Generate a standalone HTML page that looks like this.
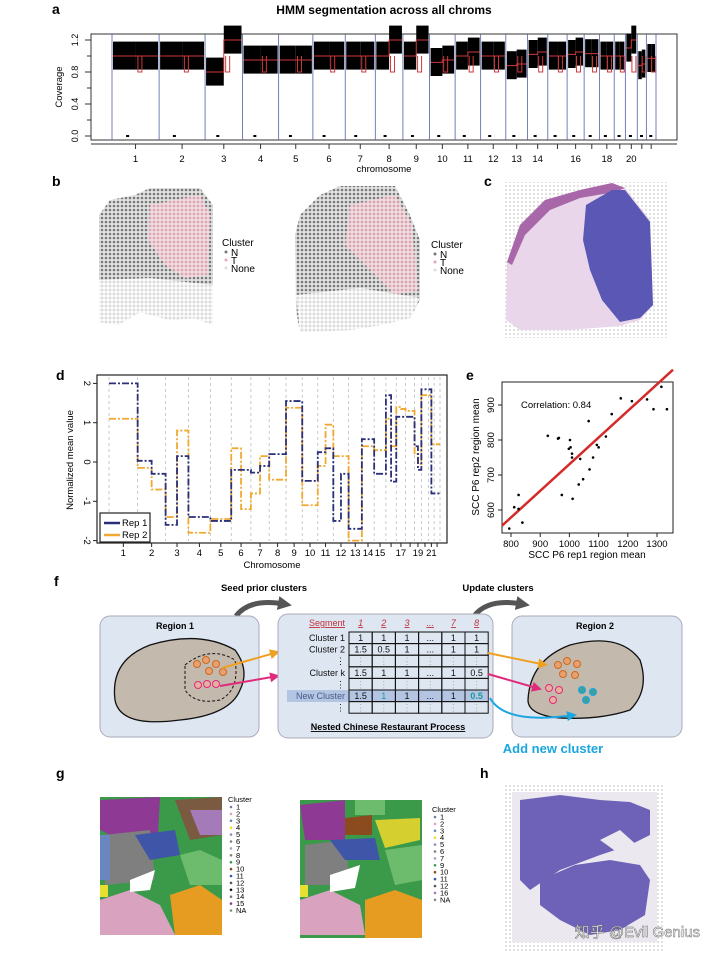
<!DOCTYPE html>
<html><head><meta charset="utf-8">
<style>
html,body{margin:0;padding:0;background:#fff;}
svg{display:block;font-family:"Liberation Sans","Noto Sans CJK SC",sans-serif;}
</style></head>
<body>
<svg id="fig" width="720" height="959" viewBox="0 0 720 959" xmlns="http://www.w3.org/2000/svg">
<defs>
<pattern id="grayDots" width="4" height="4" patternUnits="userSpaceOnUse"><rect width="4" height="4" fill="#e2e2e2"/><circle cx="2" cy="2" r="1.3" fill="#7a7a7a"/></pattern>
<pattern id="pinkDots" width="4" height="4" patternUnits="userSpaceOnUse"><rect width="4" height="4" fill="#f0dde2"/><circle cx="2" cy="2" r="1.4" fill="#e4a9b6"/></pattern>
<pattern id="lightDots" width="4" height="4" patternUnits="userSpaceOnUse"><rect width="4" height="4" fill="#fff"/><circle cx="2" cy="2" r="1.5" fill="#dcdcdc"/></pattern>
<pattern id="spotGrid" width="4" height="4" patternUnits="userSpaceOnUse"><rect width="4" height="4" fill="#fff"/><circle cx="2" cy="2" r="1" fill="#d8d8d8"/></pattern>
<marker id="arrOr" markerUnits="userSpaceOnUse" markerWidth="10" markerHeight="10" refX="8" refY="5" orient="auto"><path d="M0,0 L10,5 L0,10 z" fill="#f0a020"/></marker>
<marker id="arrPk" markerUnits="userSpaceOnUse" markerWidth="10" markerHeight="10" refX="8" refY="5" orient="auto"><path d="M0,0 L10,5 L0,10 z" fill="#e02a7a"/></marker>
<marker id="arrBl" markerUnits="userSpaceOnUse" markerWidth="10" markerHeight="10" refX="8" refY="5" orient="auto"><path d="M0,0 L10,5 L0,10 z" fill="#1aa6e0"/></marker>
<marker id="arrGy" markerUnits="userSpaceOnUse" markerWidth="14" markerHeight="14" refX="6" refY="7" orient="auto"><path d="M0,0 L14,7 L0,14 z" fill="#555"/></marker>
</defs>

<g font-weight="bold" font-size="14" fill="#000">
<text x="52" y="14">a</text>
<text x="52" y="186">b</text>
<text x="484" y="186">c</text>
<text x="56" y="380">d</text>
<text x="466" y="380">e</text>
<text x="54" y="586">f</text>
<text x="56" y="778">g</text>
<text x="480" y="778">h</text>
</g>

<text x="384" y="14" text-anchor="middle" font-size="12" font-weight="bold">HMM segmentation across all chroms</text>
<g id="panelA"></g>

<g>
<path d="M99,215 L110,200 L135,195 L150,188 L200,188 L213,205 L213,325 L195,318 L170,320 L140,312 L118,325 L99,322 Z" fill="url(#grayDots)"/>
<path d="M150,205 L200,195 L210,215 L208,275 L185,278 L165,265 L148,240 Z" fill="url(#pinkDots)" opacity="0.95"/>
<path d="M99,280 L150,278 L213,285 L213,325 L195,318 L170,320 L140,312 L118,325 L99,322 Z" fill="url(#lightDots)"/>
</g>
<g font-size="10">
<text x="222" y="246">Cluster</text>
<circle cx="226" cy="252" r="1.5" fill="#777"/><text x="231" y="256">N</text>
<circle cx="226" cy="260" r="1.5" fill="#e4a9b6"/><text x="231" y="264">T</text>
<circle cx="226" cy="268" r="1.5" fill="#ddd"/><text x="231" y="272">None</text>
</g>
<g>
<path d="M295,235 L300,215 L320,195 L340,186 L395,186 L410,215 L420,240 L420,300 L410,318 L380,325 L350,330 L300,332 L296,310 Z" fill="url(#grayDots)"/>
<path d="M350,205 L395,195 L412,225 L418,290 L395,295 L370,270 L345,245 Z" fill="url(#pinkDots)" opacity="0.9"/>
<path d="M296,295 L360,288 L420,298 L410,318 L380,325 L350,330 L300,332 Z" fill="url(#lightDots)"/>
</g>
<g font-size="10">
<text x="431" y="248">Cluster</text>
<circle cx="435" cy="254" r="1.5" fill="#777"/><text x="440" y="258">N</text>
<circle cx="435" cy="262" r="1.5" fill="#e4a9b6"/><text x="440" y="266">T</text>
<circle cx="435" cy="270" r="1.5" fill="#ddd"/><text x="440" y="274">None</text>
</g>

<g>
<rect x="505" y="182" width="162" height="156" fill="url(#spotGrid)"/>
<path d="M507,262 L520,225 L545,200 L580,190 L612,183 L625,188 L650,220 L653,305 L640,320 L620,326 L570,330 L520,330 L506,320 Z" fill="#e9d6ea"/>
<path d="M507,262 L520,225 L545,200 L580,190 L612,183 L625,188 L615,192 L580,198 L550,210 L525,235 L512,265 Z" fill="#a767a9"/>
<path d="M586,205 L612,190 L625,190 L650,222 L653,305 L640,318 L620,322 L602,300 L590,270 L583,240 Z" fill="#5b57b5"/>
</g>

<g id="panelD"></g>
<g id="panelE"></g>

<g>
<text x="264" y="591" text-anchor="middle" font-size="9.5" font-weight="bold">Seed prior clusters</text>
<text x="498" y="591" text-anchor="middle" font-size="9.5" font-weight="bold">Update clusters</text>
<path d="M236,616 Q250,598 284,604" fill="none" stroke="#555" stroke-width="5" marker-end="url(#arrGy)"/>
<path d="M474,616 Q488,598 522,604" fill="none" stroke="#555" stroke-width="5" marker-end="url(#arrGy)"/>
<rect x="100" y="616" width="159" height="121" rx="10" fill="#dde6f1" stroke="#aab"/>
<text x="175" y="629" text-anchor="middle" font-size="9" font-weight="bold">Region 1</text>
<path d="M115,700 Q110,660 150,645 Q200,630 235,650 Q250,670 240,690 Q230,715 180,720 Q120,728 115,700 Z" fill="#c4b9ad" stroke="#111" stroke-width="1.3"/>
<path d="M185,665 Q210,645 235,660 Q240,690 220,700 Q195,705 185,690 Z" fill="none" stroke="#111" stroke-dasharray="3,2"/>
<g fill="#e8a070" stroke="#cc6a20"><circle cx="197" cy="664" r="3.5"/><circle cx="206" cy="660" r="3.5"/><circle cx="216" cy="664" r="3.5"/><circle cx="209" cy="671" r="3.5"/><circle cx="223" cy="672" r="3.5"/></g>
<g fill="#e8b0a0" stroke="#e02a7a"><circle cx="198" cy="685" r="3.5"/><circle cx="207" cy="684" r="3.5"/><circle cx="216" cy="684" r="3.5"/></g>
<line x1="222" y1="668" x2="278" y2="652" stroke="#f0a020" stroke-width="2" marker-end="url(#arrOr)"/>
<line x1="220" y1="686" x2="278" y2="676" stroke="#e02a7a" stroke-width="2" marker-end="url(#arrPk)"/>
<rect x="278" y="614" width="215" height="124" rx="10" fill="#dde6f1" stroke="#aab"/>
<rect x="287" y="690" width="200" height="12" fill="#a9bde0" opacity="0.8"/>
<g id="ncrpTable"></g>
<text x="388" y="730" text-anchor="middle" font-size="9" font-weight="bold" text-decoration="underline">Nested Chinese Restaurant Process</text>
<rect x="512" y="616" width="170" height="121" rx="10" fill="#dde6f1" stroke="#aab"/>
<text x="595" y="629" text-anchor="middle" font-size="9" font-weight="bold">Region 2</text>
<path d="M528,700 Q530,660 570,645 Q620,632 640,660 Q650,690 630,710 Q600,720 560,718 Q528,715 528,700 Z" fill="#c4b9ad" stroke="#111" stroke-width="1.3"/>
<g fill="#e8a070" stroke="#cc6a20"><circle cx="558" cy="665" r="3.5"/><circle cx="567" cy="661" r="3.5"/><circle cx="577" cy="664" r="3.5"/><circle cx="563" cy="674" r="3.5"/><circle cx="575" cy="675" r="3.5"/></g>
<g fill="#e8b0a0" stroke="#e02a7a"><circle cx="549" cy="688" r="3.5"/><circle cx="559" cy="690" r="3.5"/><circle cx="553" cy="700" r="3.5"/></g>
<g fill="#3aa0a0" stroke="#1aa6e0"><circle cx="582" cy="690" r="3.5"/><circle cx="593" cy="692" r="3.5"/><circle cx="586" cy="700" r="3.5"/></g>
<line x1="488" y1="653" x2="546" y2="665" stroke="#f0a020" stroke-width="2" marker-end="url(#arrOr)"/>
<line x1="488" y1="674" x2="540" y2="689" stroke="#e02a7a" stroke-width="2" marker-end="url(#arrPk)"/>
<path d="M490,698 Q505,725 575,715" fill="none" stroke="#1aa6e0" stroke-width="2" marker-end="url(#arrBl)"/>
<text x="553" y="753" text-anchor="middle" font-size="13" font-weight="bold" fill="#1aa6e0">Add new cluster</text>
</g>

<g>
<rect x="100" y="797" width="122" height="138" fill="#3a9a4a"/>
<path d="M100,800 L160,797 L158,835 L120,840 L100,830 Z" fill="#8e3a94"/>
<path d="M103,835 L150,830 L155,880 L105,885 Z" fill="#7f7f7f"/>
<path d="M135,835 L175,830 L180,855 L150,860 Z" fill="#3e55a8"/>
<path d="M100,835 L110,835 L110,880 L100,880 Z" fill="#6a86c0"/>
<path d="M175,800 L222,797 L222,835 L190,840 Z" fill="#7a5a40"/>
<path d="M190,810 L222,810 L222,835 L200,835 Z" fill="#a57ab8"/>
<path d="M100,900 L130,890 L160,905 L175,935 L100,935 Z" fill="#d9a3c0"/>
<path d="M170,895 L200,885 L222,900 L222,935 L175,935 Z" fill="#e59c20"/>
<path d="M130,880 L155,870 L150,890 L130,892 Z" fill="#fff"/>
<path d="M180,855 L200,850 L222,860 L222,885 L190,885 Z" fill="#6dbb6d"/>
<rect x="100" y="885" width="8" height="12" fill="#e8e030"/>
</g>
<g id="legendG1" font-size="7"></g>
<g>
<rect x="300" y="800" width="122" height="138" fill="#3a9a4a"/>
<path d="M300,805 L345,800 L345,840 L305,840 Z" fill="#8e3a94"/>
<path d="M305,845 L345,840 L350,885 L305,885 Z" fill="#7f7f7f"/>
<path d="M330,840 L375,838 L380,860 L345,860 Z" fill="#3e55a8"/>
<path d="M345,818 L372,815 L372,835 L345,835 Z" fill="#8b4b1f"/>
<path d="M375,820 L420,818 L420,840 L385,848 Z" fill="#d5cf30"/>
<path d="M355,800 L385,800 L385,815 L355,815 Z" fill="#6dbb6d"/>
<path d="M300,900 L330,890 L360,905 L365,935 L300,935 Z" fill="#d9a3c0"/>
<path d="M365,900 L395,890 L422,900 L422,938 L365,938 Z" fill="#e59c20"/>
<path d="M330,875 L360,865 L355,888 L330,892 Z" fill="#fff"/>
<path d="M385,850 L422,845 L422,880 L395,885 Z" fill="#6dbb6d"/>
<rect x="300" y="885" width="8" height="12" fill="#e8e030"/>
</g>
<g id="legendG2" font-size="7"></g>

<g>
<rect x="505" y="785" width="158" height="167" fill="url(#spotGrid)"/>
<rect x="512" y="792" width="145" height="150" fill="#ece8ef"/>
<path d="M520,800 L560,795 L600,800 L630,802 L650,810 L650,835 L630,845 L600,855 L560,870 L530,890 L520,880 Z" fill="#6e62b8"/>
<path d="M540,880 L575,865 L610,860 L640,865 L650,880 L645,915 L620,930 L590,935 L560,920 L540,905 Z" fill="#6e62b8"/>
<path d="M600,840 L620,830 L640,848 L625,858 Z" fill="#ece8ef"/>
</g>
<text x="700" y="937" text-anchor="end" font-size="15" fill="#fff" stroke="#666" stroke-width="0.5">知乎 @Evil Genius</text>
</svg>

<script>
var NS="http://www.w3.org/2000/svg";
function mk(parent,tag,attrs,text){var e=document.createElementNS(NS,tag);for(var k in attrs)e.setAttribute(k,attrs[k]);if(text!==undefined)e.textContent=text;parent.appendChild(e);return e;}

var chromLengths=[249,243,198,191,181,171,159,146,141,135,135,133,115,107,102,90,81,78,59,63,48,51];
var chromNames=["1","2","3","4","5","6","7","8","9","10","11","12","13","14","15","16","17","18","19","20","21","22"];
var totalLen=chromLengths.reduce(function(a,b){return a+b;},0);
function cumStart(i){var s=0;for(var j=0;j<i;j++)s+=chromLengths[j];return s;}

var coverageLevelA=[1.0,1.0,0.8,0.95,0.95,1.0,1.0,1.0,1.0,0.92,1.0,1.0,0.88,1.02,1.0,1.02,1.03,1.0,1.0,1.1,0.88,0.97];
var coverageLevelB=[1.0,1.0,1.2,0.95,0.95,1.0,1.0,1.2,1.2,0.95,1.05,1.0,0.9,1.05,1.0,1.05,1.03,1.0,1.0,1.2,0.9,0.97];
var coverageTicks=[0.0,0.4,0.8,1.2];
var axisTickLabelsA=["1","2","3","4","5","6","7","8","9","10","11","12","13","14","","16","","18","","20","",""];
(function(){
  var g=document.getElementById("panelA");
  var x0=112,x1=656,yTop=34,yBot=140;
  function xs(v){return x0+(v/totalLen)*(x1-x0);}
  function ys(v){return 136-(v/1.2)*(136-40);}
  var box=mk(g,"rect",{x:91,y:yTop,width:586,height:yBot-yTop,fill:"none",stroke:"#333","stroke-width":1});
  
  
  coverageTicks.forEach(function(t){
    mk(g,"line",{x1:85,x2:91,y1:ys(t),y2:ys(t),stroke:"#333"});
    var tl=mk(g,"text",{x:75,y:ys(t),"font-size":9,"text-anchor":"middle",transform:"rotate(-90 75 "+ys(t)+")",dy:3},t.toFixed(1));
    
    
  });
  [0.2,0.6,1.0].forEach(function(t){mk(g,"line",{x1:87,x2:91,y1:ys(t),y2:ys(t),stroke:"#333"});});
  var yl=mk(g,"text",{x:62,y:87,"font-size":9.5,"text-anchor":"middle",transform:"rotate(-90 62 87)"},"Coverage");
  
  
  mk(g,"line",{x1:91,x2:677,y1:yBot+4,y2:yBot+4,stroke:"#333"});
  chromLengths.forEach(function(L,i){
    var s=cumStart(i),e=s+L,m=s+L/2;
    var xa=xs(s),xb=xs(e),xm=xs(s+L*0.5);
    var band=mk(g,"rect",{x:xa+1,y:ys(coverageLevelA[i]+0.18),width:Math.max(0,(xm-xa)-1),height:ys(coverageLevelA[i]-0.17)-ys(coverageLevelA[i]+0.18),fill:"#000"});
    
    
    var band2=mk(g,"rect",{x:xm,y:ys(coverageLevelB[i]+0.18),width:Math.max(0,(xb-xm)-1),height:ys(coverageLevelB[i]-0.17)-ys(coverageLevelB[i]+0.18),fill:"#000"});
    
    
    var dip=xa+(xb-xa)*0.55;
    var seg=mk(g,"path",{d:"M"+(xa+1)+","+ys(coverageLevelA[i])+" H"+xm+" V"+ys(coverageLevelB[i])+" H"+(xb-1)+" M"+dip+","+ys(1.0)+" V"+ys(0.8)+" h4 V"+ys(1.0),fill:"none",stroke:"#d0383a","stroke-width":1});
    
    
    mk(g,"rect",{x:xa+(xb-xa)*0.3,y:ys(0)-1,width:3,height:2,fill:"#000"});
    var bl=mk(g,"line",{x1:xb,x2:xb,y1:yTop,y2:yBot,stroke:"#5060a8","stroke-width":0.8});
    
    
    mk(g,"line",{x1:xs(m),x2:xs(m),y1:yBot+4,y2:yBot+9,stroke:"#333"});
    if(axisTickLabelsA[i]){
      var tl=mk(g,"text",{x:xs(m),y:162,"font-size":9.5,"text-anchor":"middle"},axisTickLabelsA[i]);
      
      
    }
  });
  mk(g,"line",{x1:x0,x2:x0,y1:yTop,y2:yBot,stroke:"#5060a8","stroke-width":0.8});
  var xl=mk(g,"text",{x:384,y:172,"font-size":9.5,"text-anchor":"middle"},"chromosome");
  
  
})();

var rep1First=[2.0,0.03,-1.6,-1.4,-1.5,-0.2,-0.27,0.2,1.55,-0.48,0.25,-1.5,-1.7,0.58,-0.3,1.7,1.15,1.15,0.4,1.85,1.85,-0.8];
var rep1Second=[2.0,-0.3,0.15,-1.4,-1.5,-0.2,-0.1,0.2,1.55,-0.48,0.35,-0.3,-1.7,0.58,-0.3,-0.5,1.15,1.15,-0.2,1.85,-0.8,-0.8];
var rep2First=[1.1,-0.15,-1.4,-1.8,-1.45,0.35,-0.8,-0.45,1.38,-1.1,-0.1,0.15,-2.0,0.4,0.3,1.1,1.4,1.3,0.2,1.7,1.7,0.45];
var rep2Second=[1.1,-0.7,0.8,-1.8,-1.45,-1.2,0.15,-0.45,1.38,-1.1,0.95,0.15,-2.0,0.4,0.3,0.4,1.35,1.3,-0.05,1.7,0.45,0.45];
var yTicksD=[-2,-1,0,1,2];
var xTickLabelsD=["1","2","3","4","5","6","7","8","9","10","11","12","13","14","15","","17","","19","","21",""];
(function(){
  var g=document.getElementById("panelD");
  var x0=109,x1=440;
  function xs(v){return x0+(v/totalLen)*(x1-x0);}
  function ys(v){return 462-v*39.3;}
  mk(g,"rect",{x:97,y:375,width:350,height:168,fill:"none",stroke:"#222","stroke-width":1.2});
  chromLengths.forEach(function(L,i){
    var s=cumStart(i);
    mk(g,"line",{x1:xs(s),x2:xs(s),y1:377,y2:541,stroke:"#bbb","stroke-dasharray":"3,3","stroke-width":0.8});
    var m=xs(s+L/2);
    mk(g,"line",{x1:m,x2:m,y1:543,y2:547,stroke:"#222"});
    if(xTickLabelsD[i]){
      var tl=mk(g,"text",{x:m,y:556,"font-size":9.5,"text-anchor":"middle"},xTickLabelsD[i]);
      
      
    }
  });
  mk(g,"line",{x1:xs(totalLen),x2:xs(totalLen),y1:377,y2:541,stroke:"#bbb","stroke-dasharray":"3,3","stroke-width":0.8});
  yTicksD.forEach(function(t){
    mk(g,"line",{x1:93,x2:97,y1:ys(t),y2:ys(t),stroke:"#222"});
    var tl=mk(g,"text",{x:87,y:ys(t),"font-size":9.5,"text-anchor":"middle",transform:"rotate(90 87 "+ys(t)+")",dy:3},String(t));
    
    
  });
  var yl=mk(g,"text",{x:73,y:460,"font-size":9.5,"text-anchor":"middle",transform:"rotate(-90 73 460)"},"Normalized mean value");
  
  
  var xl=mk(g,"text",{x:272,y:568,"font-size":9.5,"text-anchor":"middle"},"Chromosome");
  
  
  function stepPath(a,b){
    var d="";
    chromLengths.forEach(function(L,i){
      var s=cumStart(i);
      var p1=xs(s),pm=xs(s+L/2),p2=xs(s+L);
      d+=(i===0?"M":"L")+p1+","+ys(a[i])+" L"+pm+","+ys(a[i])+" L"+pm+","+ys(b[i])+" L"+p2+","+ys(b[i])+" ";
    });
    return d;
  }
  var r2=mk(g,"path",{d:stepPath(rep2First,rep2Second),fill:"none",stroke:"#f0a830","stroke-width":1.8,"stroke-dasharray":"7,2,2,2"});
  
  
  var r1=mk(g,"path",{d:stepPath(rep1First,rep1Second),fill:"none",stroke:"#2b2f78","stroke-width":1.8,"stroke-dasharray":"7,2,2,2"});
  
  
  var lg=mk(g,"g",{});
  
  
  mk(lg,"rect",{x:100,y:513,width:50,height:29,fill:"#fff",stroke:"#222","stroke-width":1.2});
  mk(lg,"line",{x1:104,x2:120,y1:523,y2:523,stroke:"#2b2f78","stroke-width":2.5});
  mk(lg,"text",{x:122,y:526,"font-size":9.5},"Rep 1");
  mk(lg,"line",{x1:104,x2:120,y1:535,y2:535,stroke:"#f0a830","stroke-width":2.5});
  mk(lg,"text",{x:122,y:538,"font-size":9.5},"Rep 2");
})();

var rep1Means=[794,811,826,826,839,926,961,964,974,998,1002,1004,1009,1009,1011,1032,1037,1047,1066,1069,1081,1094,1100,1125,1145,1176,1214,1266,1288,1315,1334];
var rep2Means=[547,608,643,603,564,812,804,806,643,775,800,779,761,750,632,673,746,688,854,716,750,786,779,810,874,919,911,916,888,952,888];
var xTicksE=[800,900,1000,1100,1200,1300];
var yTicksE=[600,700,800,900];
(function(){
  var g=document.getElementById("panelE");
  var L=502,R=673,T=382,B=533;
  function xs(v){return 511+(v-800)*0.292;}
  function ys(v){return 510-(v-600)*0.35;}
  mk(g,"rect",{x:L,y:T,width:R-L,height:B-T,fill:"none",stroke:"#222"});
  xTicksE.forEach(function(t){
    mk(g,"line",{x1:xs(t),x2:xs(t),y1:B,y2:B+4,stroke:"#222"});
    var tl=mk(g,"text",{x:xs(t),y:B+14,"font-size":9.5,"text-anchor":"middle"},String(t));
    
    
  });
  yTicksE.forEach(function(t){
    mk(g,"line",{x1:L-4,x2:L,y1:ys(t),y2:ys(t),stroke:"#222"});
    var tl=mk(g,"text",{x:L-8,y:ys(t),"font-size":9.5,"text-anchor":"middle",transform:"rotate(-90 "+(L-8)+" "+ys(t)+")"},String(t));
    
    
  });
  var xl=mk(g,"text",{x:587,y:558,"font-size":10,"text-anchor":"middle"},"SCC P6 rep1 region mean");
  
  
  var yl=mk(g,"text",{x:479,y:457,"font-size":10,"text-anchor":"middle",transform:"rotate(-90 479 457)"},"SCC P6 rep2 region mean");
  
  
  var n=rep1Means.length,mx=0,my=0,i;
  for(i=0;i<n;i++){mx+=rep1Means[i];my+=rep2Means[i];}
  mx/=n;my/=n;
  var sxx=0,syy=0;
  for(i=0;i<n;i++){sxx+=Math.pow(rep1Means[i]-mx,2);syy+=Math.pow(rep2Means[i]-my,2);}
  var slope=Math.sqrt(syy/sxx),icpt=my-slope*mx;
  var xa=(L-511)/0.292+800,xb=(R-511)/0.292+800;
  var fit=mk(g,"line",{x1:L,y1:ys(icpt+slope*xa),x2:R,y2:ys(icpt+slope*xb),stroke:"#d42a2a","stroke-width":2.5});
  
  
  for(i=0;i<n;i++){
    var p=mk(g,"circle",{cx:xs(rep1Means[i]),cy:ys(rep2Means[i]),r:1.3,fill:"#000"});
    
    
  }
  var ct=mk(g,"text",{x:521,y:408,"font-size":9.5},"Correlation: 0.84");
  
  
})();

var segmentHeaders=["1","2","3","...","7","8"];
var tableRowLabels=["Cluster 1","Cluster 2","⋮","Cluster k","⋮","New Cluster","⋮"];
var tableRows=[["1","1","1","...","1","1"],["1.5","0.5","1","...","1","1"],["⋮","⋮","⋮","⋮","⋮","⋮"],["1.5","1","1","...","1","0.5"],["⋮","⋮","⋮","⋮","⋮","⋮"],["1.5","1","1","...","1","0.5"],["⋮","⋮","⋮","⋮","⋮","⋮"]];
(function(){
  var g=document.getElementById("ncrpTable");
  var cx0=349,cw=23.2,ry0=632,rh=11.6;
  mk(g,"text",{x:345,y:626,"font-size":9,fill:"#c0303a","text-anchor":"end","text-decoration":"underline"},"Segment");
  segmentHeaders.forEach(function(h,j){
    mk(g,"text",{x:cx0+cw*j+cw/2,y:626,"font-size":9,fill:"#c0303a","text-anchor":"middle","font-style":"italic","text-decoration":"underline"},h);
  });
  tableRows.forEach(function(row,i){
    var y=ry0+rh*i;
    var lbl=mk(g,"text",{x:345,y:y+9,"font-size":9,"text-anchor":"end",fill:i===5?"#4a5a8a":"#111"},tableRowLabels[i]);
    
    
    row.forEach(function(v,j){
      mk(g,"rect",{x:cx0+cw*j,y:y,width:cw,height:rh,fill:"none",stroke:"#111","stroke-width":1});
      var col=(i===5&&(j===1||j===5))?"#1a9a9a":(v==="⋮"?"#aaa":"#111");
      mk(g,"text",{x:cx0+cw*j+cw/2,y:y+9,"font-size":9,"text-anchor":"middle",fill:col,"font-weight":(i===5&&j===5)?"bold":"normal"},v);
    });
  });
})();

var legendLabelsG1=["1","2","3","4","5","6","7","8","9","10","11","12","13","14","15","NA"];
var legendLabelsG2=["1","2","3","4","5","6","7","9","10","11","12","16","NA"];
var legendColors={"1":"#7a7a9a","2":"#d9a3c0","3":"#6a86c0","4":"#e8e030","5":"#8e8ec0","6":"#7f7f7f","7":"#a0a0c0","8":"#7f7f7f","9":"#3a9a4a","10":"#8b4b1f","11":"#3e55a8","12":"#555","13":"#111","14":"#777","15":"#8e3a94","16":"#a57ab8","NA":"#888"};
function drawLegend(id,x,y,labels){
  var g=document.getElementById(id);
  mk(g,"text",{x:x,y:y,"font-size":7.5},"Cluster");
  labels.forEach(function(l,i){
    mk(g,"circle",{cx:x+3,cy:y+5+i*6.9,r:1.3,fill:legendColors[l]});
    var t=mk(g,"text",{x:x+8,y:y+7.5+i*6.9,"font-size":7.5},l);
    
    
  });
}
drawLegend("legendG1",228,802,legendLabelsG1);
drawLegend("legendG2",432,812,legendLabelsG2);
</script>
</body></html>
